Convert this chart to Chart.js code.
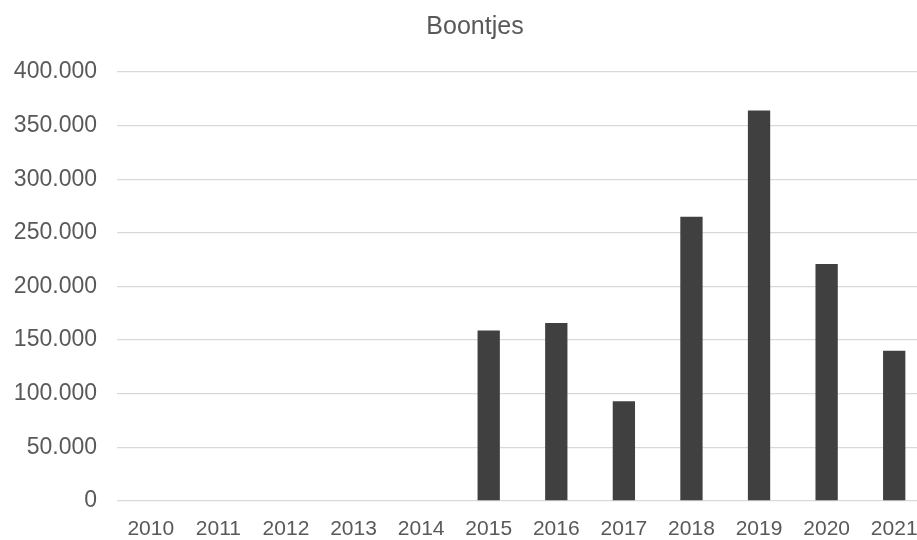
<!DOCTYPE html>
<html>
<head>
<meta charset="utf-8">
<script src="https://cdn.jsdelivr.net/npm/chart.js@4/dist/chart.umd.min.js"></script>
<style>
  html, body { margin: 0; padding: 0; background: #ffffff; overflow: hidden; }
  #wrap { width: 917px; height: 540px; overflow: hidden; }
</style>
</head>
<body>
<div id="wrap"><canvas id="boontjes_chart" width="950" height="540"></canvas></div>
<script>
// values
var years = ['2010', '2011', '2012', '2013', '2014', '2015', '2016', '2017', '2018', '2019', '2020', '2021'];
var boontjes = [0, 0, 0, 0, 0, 159000, 166000, 93000, 265000, 364000, 221000, 140000];
var y_ticks = [0, 50000, 100000, 150000, 200000, 250000, 300000, 350000, 400000];

function dutch_number(v) {
    return String(v).replace(/\B(?=(\d{3})+(?!\d))/g, '.');
}

function init_boontjes_chart() {

    var ctx = document.getElementById('boontjes_chart').getContext('2d');
    var fam = "'Liberation Sans', Arial, sans-serif";

    const data = {
        labels: years,
        datasets: [{
            label: 'Boontjes',
            data: boontjes,
            backgroundColor: '#404040',
            borderWidth: 0,
            barPercentage: 0.33,
            categoryPercentage: 1.0
        }]
    };

    const config = {
        type: 'bar',
        data: data,
        options: {
            responsive: false,
            animation: false,
            layout: { padding: 0 },
            plugins: {
                legend: { display: false },
                tooltip: { enabled: false },
                title: {
                    display: true,
                    text: 'Boontjes',
                    color: '#595959',
                    font: { family: fam, size: 25, weight: 'normal' },
                    padding: { top: 12, bottom: 30 }
                }
            },
            scales: {
                x: {
                    grid: { display: false },
                    border: { display: false },
                    ticks: { color: '#595959', font: { family: fam, size: 21 }, padding: 8, maxRotation: 0, autoSkip: false },
                    afterFit: function (scale) { scale.height = 39; }
                },
                y: {
                    min: 0,
                    max: 400000,
                    afterBuildTicks: function (scale) {
                        scale.ticks = y_ticks.map(function (v) { return { value: v }; });
                    },
                    grid: { color: '#d9d9d9', lineWidth: 1.3, drawTicks: false },
                    border: { display: false },
                    ticks: {
                        color: '#595959',
                        font: { family: fam, size: 23 },
                        padding: 20,
                        callback: function (v) { return dutch_number(v); }
                    },
                    afterFit: function (scale) { scale.width = 117; }
                },
                // empty strip on the right so the chart runs past the window edge
                spacer: {
                    type: 'linear',
                    position: 'right',
                    display: true,
                    grid: { display: false },
                    border: { display: false },
                    ticks: { display: false },
                    afterFit: function (scale) { scale.width = 22; }
                }
            }
        }
    };

    return new Chart(ctx, config);
}

init_boontjes_chart();
</script>
</body>
</html>
